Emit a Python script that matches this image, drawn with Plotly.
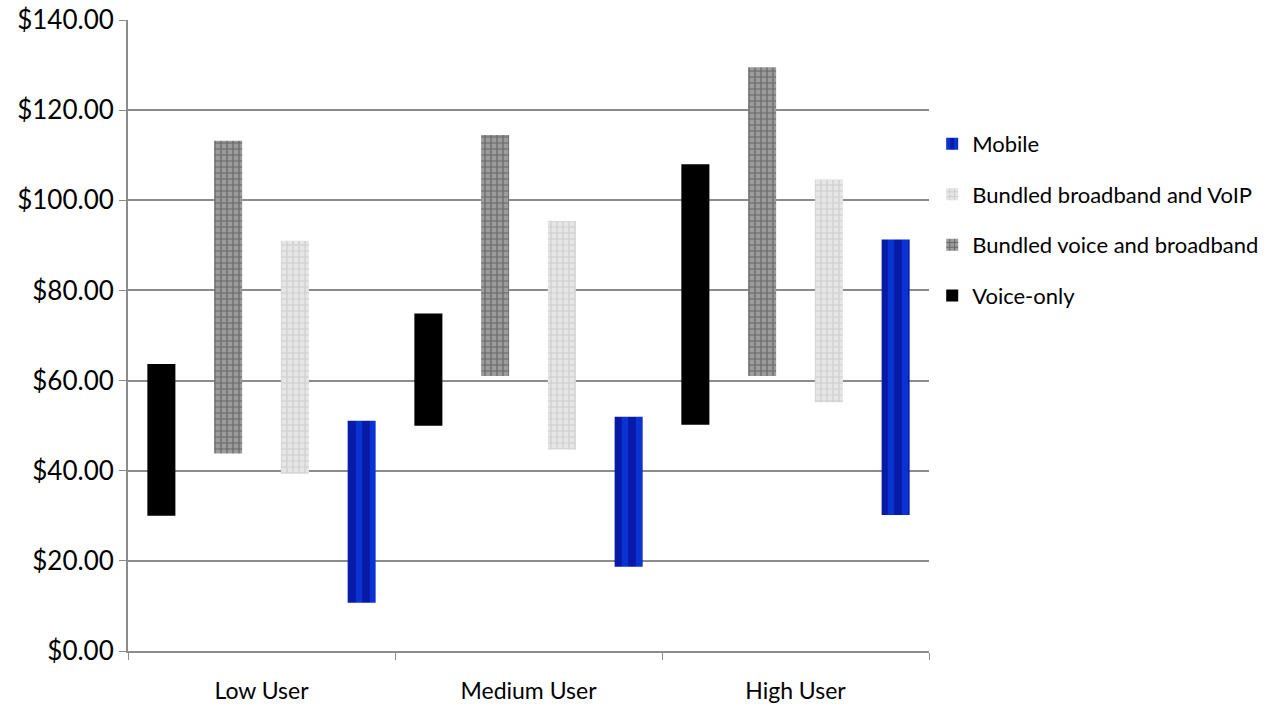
import plotly.graph_objects as go

# Monthly cost ranges by user profile
categories = ["Low User", "Medium User", "High User"]

voice_low = [30.0, 50.0, 50.2]
voice_high = [63.7, 74.9, 108.0]

bvb_low = [43.8, 61.0, 61.0]
bvb_high = [113.2, 114.5, 129.5]

bbvoip_low = [39.3, 44.7, 55.2]
bbvoip_high = [91.0, 95.4, 104.6]

mobile_low = [10.7, 18.7, 30.2]
mobile_high = [51.1, 52.0, 91.3]

y_ticks = [0, 20, 40, 60, 80, 100, 120, 140]

FONT = "Lato"
GRID = "#8c8c8c"


def span(lo, hi):
    return [h - l for l, h in zip(lo, hi)]


fig = go.Figure()

fig.add_trace(go.Bar(
    name="Voice-only", x=categories, base=voice_low, y=span(voice_low, voice_high),
    marker=dict(color="#000000", line=dict(width=0)),
    legendgroup="voice", legendrank=4,
))
fig.add_trace(go.Bar(
    name="Bundled voice and broadband", x=categories, base=bvb_low, y=span(bvb_low, bvb_high),
    marker=dict(color="#9c9c9c", line=dict(width=0),
                pattern=dict(shape="+", fgcolor="#303030", bgcolor="#9c9c9c",
                             size=6, solidity=0.35, fillmode="overlay")),
    legendgroup="bvb", legendrank=3,
))
fig.add_trace(go.Bar(
    name="Bundled broadband and VoIP", x=categories, base=bbvoip_low, y=span(bbvoip_low, bbvoip_high),
    marker=dict(color="#e6e6e6", line=dict(width=0),
                pattern=dict(shape="+", fgcolor="#b4b4b4", bgcolor="#e6e6e6",
                             size=6, solidity=0.35, fillmode="overlay")),
    legendgroup="bbvoip", legendrank=2,
))
fig.add_trace(go.Bar(
    name="Mobile", x=categories, base=mobile_low, y=span(mobile_low, mobile_high),
    marker=dict(color="#0a1aa8", line=dict(width=0),
                pattern=dict(shape="|", fgcolor="#0a4cff", bgcolor="#0a1aa8",
                             size=14, solidity=0.45, fillmode="overlay")),
    legendgroup="mobile", legendrank=1,
))

fig.update_layout(
    width=1271, height=706,
    margin=dict(l=128, r=342, t=20, b=55, autoexpand=False),
    paper_bgcolor="white", plot_bgcolor="white",
    barmode="group", bargap=0, bargroupgap=0.58,
    font=dict(family=FONT, size=22, color="#000000"),
    showlegend=True,
    legend=dict(
        x=1.004, xanchor="left", y=0.837, yanchor="top",
        traceorder="grouped", tracegroupgap=19,
        font=dict(family=FONT, size=22, color="#000000"),
        itemwidth=30,
    ),
    xaxis=dict(
        type="category", range=[-0.5, 2.5],
        showline=True, linecolor=GRID, linewidth=2,
        ticks="outside", tickson="boundaries", ticklen=7, tickcolor=GRID, tickwidth=1,
        ticklabelstandoff=18,
        showgrid=False,
        tickfont=dict(family=FONT, size=23),
    ),
    yaxis=dict(
        range=[0, 140], tickvals=y_ticks, tickformat="$,.2f",
        showline=True, linecolor=GRID, linewidth=2,
        ticks="outside", ticklen=7, tickcolor=GRID,
        showgrid=True, gridcolor=GRID, gridwidth=1.5,
        zeroline=False,
        tickfont=dict(family=FONT, size=26),
    ),
)

fig.write_html("out.html")
